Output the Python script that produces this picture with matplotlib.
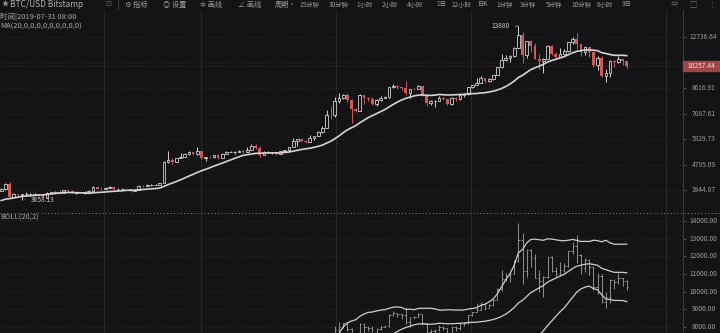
import numpy as np
import pandas as pd
import matplotlib
matplotlib.use('Agg')
import matplotlib.pyplot as plt
from matplotlib.lines import Line2D
from matplotlib.patches import Rectangle
from matplotlib.ticker import NullLocator
from matplotlib.transforms import blended_transform_factory

plt.rcParams['font.family'] = ['Noto Sans CJK SC', 'DejaVu Sans']

# BTC/USD daily candles, 2019-02-22 .. 2019-07-22
open_ = np.array([
    3925, 3985, 4135, 3745, 3825, 3800, 3810,
    3815, 3825, 3830, 3790, 3715, 3860, 3870, 3885, 3860, 3935, 3920, 3865, 3880, 3865, 3870, 3925,
    4025, 3985, 3970, 4005, 4040, 3965, 3975, 3985, 3975, 3920, 3935, 4080, 4070, 4100, 4110,
    4110, 4155, 4880, 4980, 4905, 5040, 5070, 5200, 5280, 5190, 5320, 5030, 5080, 5070, 5150,
    5040, 5210, 5280, 5290, 5290, 5330, 5290, 5380, 5510, 5440, 5170, 5260, 5260, 5270, 5190,
    5320, 5370, 5480, 5750, 5820, 5740, 5710, 5860, 5970, 6160, 6360, 7010, 6990, 7810, 7990,
    8200, 7880, 7360, 7260, 8190, 7990, 7960, 7640, 7900, 8000, 8060, 8680, 8790, 8720, 8660, 8280,
    8560, 8550, 8740, 8210, 7700, 7790, 7810, 8000, 7940, 7630, 8010, 7930, 8160, 8240, 8690,
    8850, 8990, 9320, 9080, 9270, 9540, 10150, 10700, 10860, 11020, 11760, 12940, 11150, 12340, 11880,
    10800, 10580, 10810, 11950, 11170, 10980, 11240, 11460, 12290, 12570, 12100, 11350, 11810, 11380,
    10260, 10860, 9430, 9680, 10640, 10530, 10760, 10590,
])
high = np.array([
    3995, 4165, 4195, 3860, 3835, 3825, 3890,
    3855, 3840, 3835, 3805, 3880, 3895, 3910, 3945, 3950, 3940, 3930, 3890, 3890, 3915, 3935, 4065,
    4030, 4030, 4025, 4055, 4060, 3995, 4000, 3990, 3980, 3945, 4085, 4085, 4115, 4140, 4120,
    4170, 4935, 5310, 5050, 5060, 5240, 5250, 5340, 5290, 5470, 5330, 5100, 5110, 5170, 5190,
    5230, 5300, 5340, 5330, 5350, 5350, 5490, 5620, 5600, 5520, 5320, 5300, 5290, 5280, 5330,
    5380, 5500, 5880, 5850, 5830, 5780, 6000, 5990, 6180, 6430, 7300, 7490, 8030, 8300, 8240,
    8290, 7920, 7400, 8240, 8200, 8080, 8050, 7960, 8130, 8100, 8720, 8920, 8810, 8730, 9080, 8590,
    8620, 8800, 8750, 8220, 7900, 7880, 8110, 8030, 7960, 8050, 8040, 8240, 8310, 8700, 8860,
    9330, 9440, 9340, 9290, 9570, 10180, 11200, 11080, 11080, 11790, 13880, 13300, 12390, 12430, 12150,
    11200, 10900, 11980, 12010, 11400, 11690, 11600, 12320, 12800, 13200, 12130, 11900, 11840, 11450,
    11070, 11020, 9990, 10740, 10710, 11060, 10800, 10660,
])
low = np.array([
    3920, 3950, 3700, 3740, 3780, 3658.13, 3790,
    3810, 3790, 3770, 3695, 3710, 3835, 3855, 3830, 3855, 3885, 3855, 3835, 3855, 3820, 3865, 3920,
    3960, 3955, 3965, 3990, 3945, 3955, 3965, 3960, 3880, 3905, 3930, 4050, 4065, 4080, 4095,
    4095, 4150, 4850, 4810, 4895, 5030, 5070, 5170, 5150, 5170, 4990, 4930, 5040, 5040, 5010,
    5030, 5200, 5270, 5200, 5280, 5230, 5260, 5370, 5400, 5080, 5150, 5230, 5200, 5160, 5180,
    5310, 5360, 5470, 5540, 5690, 5640, 5700, 5790, 5960, 6130, 6350, 6800, 6900, 7710, 7950,
    7750, 6620, 7160, 7250, 7620, 7800, 7580, 7520, 7830, 7980, 7980, 8650, 8590, 8480, 8170, 8020,
    8500, 8540, 8140, 7520, 7600, 7450, 7790, 7850, 7560, 7570, 7800, 7850, 8060, 8160, 8610,
    8830, 8980, 8960, 9050, 9210, 9530, 10050, 10600, 10570, 10990, 11700, 10450, 10840, 11420, 10770,
    10000, 9720, 10780, 11090, 10820, 10950, 11120, 11380, 12120, 11650, 11000, 11130, 10920, 10120,
    9880, 9380, 9070, 9380, 10160, 10450, 10330, 10090,
])
close = np.array([
    3985, 4135, 3745, 3825, 3800, 3810, 3815,
    3825, 3830, 3790, 3715, 3860, 3870, 3885, 3860, 3935, 3920, 3865, 3880, 3865, 3870, 3925, 4025,
    3985, 3970, 4005, 4040, 3965, 3975, 3985, 3975, 3920, 3935, 4080, 4070, 4100, 4110, 4110,
    4155, 4880, 4980, 4905, 5040, 5070, 5200, 5280, 5190, 5320, 5030, 5080, 5070, 5150, 5040,
    5210, 5280, 5290, 5290, 5330, 5290, 5380, 5510, 5440, 5170, 5260, 5260, 5270, 5190, 5320,
    5370, 5480, 5750, 5820, 5740, 5710, 5860, 5970, 6160, 6360, 7010, 6990, 7810, 7990, 8200,
    7880, 7360, 7260, 8190, 7990, 7960, 7640, 7900, 8000, 8060, 8680, 8790, 8720, 8660, 8280, 8560,
    8550, 8740, 8210, 7700, 7790, 7810, 8000, 7940, 7630, 8010, 7930, 8160, 8240, 8690, 8850,
    8990, 9320, 9080, 9270, 9540, 10150, 10700, 10860, 11020, 11760, 12940, 11150, 12340, 11880, 10800,
    10580, 10810, 11950, 11170, 10980, 11240, 11460, 12290, 12570, 12100, 11350, 11810, 11380, 10260,
    10860, 9430, 9680, 10640, 10530, 10760, 10590, 10257.44,
])
# closes before the first visible candle, only needed for the MA / BOLL warm-up
warmup_close = np.array([3410, 3440, 3410, 3375, 3355, 3625, 3620, 3660, 3595, 3610,
                         3595, 3575, 3585, 3605, 3640, 3885, 3915, 3950, 3925])

price_ticks = [3944.07, 4795.09, 5829.73, 7087.61, 8616.91, 10476.12, 12736.64]
boll_ticks = [8000, 9000, 10000, 11000, 12000, 13000, 14000]

toolbar = ['15分钟', '30分钟', '1小时', '2小时', '4小时', '1日', '12小时', '日K',
           '1分钟', '3分钟', '5分钟', '10分钟', '6小时', '3日']

W, H = 720, 333
BG = '#141416'
UP = '#d2d2d2'
DOWN = '#cb5a5a'
GRID = '#2c2c30'
TXT = '#9c9c9c'
LINE = '#d4d4d4'


def fx(px):
    return px / W


def fy(py):
    return 1 - py / H


fig = plt.figure(figsize=(W / 100, H / 100), dpi=100, facecolor=BG)
ax = fig.add_axes([0, fy(213), fx(683), (213 - 10) / H], facecolor=BG)
ax2 = fig.add_axes([0, 0, fx(683), (333 - 213) / H], facecolor=BG)

x = np.arange(len(close))
step = 4.17
xlim = (-0.3, 683 / step - 0.3)
up = close >= open_

all_close = pd.Series(np.concatenate([warmup_close, close]))
n0 = len(warmup_close)
ma = all_close.rolling(20).mean().to_numpy()[n0:]
sd = all_close.rolling(20).std(ddof=0).to_numpy()[n0:]

# --- main panel: candles + MA20 on log scale
ax.vlines(x, low, high, colors=np.where(up, UP, DOWN), lw=0.7, zorder=2)
ax.bar(x[up], close[up] - open_[up], bottom=open_[up], width=0.66,
       facecolor=BG, edgecolor=UP, lw=0.6, zorder=3)
ax.bar(x[~up], open_[~up] - close[~up], bottom=close[~up], width=0.66,
       color=DOWN, lw=0, zorder=3)
ax.plot(x, ma, color=LINE, lw=1.2, zorder=4)

ax.set_yscale('log')
ax.set_ylim(3305, 15710)
ax.set_xlim(*xlim)

# --- lower panel: OHLC bars + BOLL(20,2)
ax2.vlines(x, low, high, color='#a4a4a4', lw=0.6)
ax2.hlines(open_, x - 0.35, x, color='#a4a4a4', lw=0.6)
ax2.hlines(close, x, x + 0.35, color='#a4a4a4', lw=0.6)
for band in (ma + 2 * sd, ma, ma - 2 * sd):
    ax2.plot(x, band, color='#cfcfcf', lw=0.9)
ax2.set_ylim(7660, 14453)
ax2.set_xlim(*xlim)

fig.canvas.draw()
py_last = ax.transData.transform((0, close[-1]))[1]

vgrid = [103 / step, 200 / step, 335 / step, 470 / step, 665 / step]
for a, ticks in ((ax, price_ticks), (ax2, boll_ticks)):
    for s in ('left', 'top', 'bottom'):
        a.spines[s].set_visible(False)
    a.spines['right'].set_color('#3a3a3e')
    a.spines['right'].set_linewidth(0.8)
    a.yaxis.tick_right()
    a.set_yticks(ticks)
    a.yaxis.set_minor_locator(NullLocator())
    a.tick_params(axis='y', length=2.5, color='#4a4a4e', labelright=False)
    a.set_xticks(vgrid)
    a.tick_params(axis='x', length=0, labelbottom=False)
    a.grid(axis='x', color=GRID, lw=0.6)
    tr = blended_transform_factory(fig.transFigure, a.transData)
    for v in ticks:
        a.axhline(v, color='#303034', lw=0.6, ls=(0, (1, 2)), zorder=0)
        # label hidden behind the last-price tag in the reference
        if a is ax and abs(a.transData.transform((0, v))[1] - py_last) < 8:
            continue
        a.text(fx(703.5), v, f'{v:.2f}', transform=tr, ha='center', va='center',
               fontsize=4.8, color=TXT, clip_on=False)

# high / low markers
i_hi = int(np.argmax(high))
i_lo = int(np.argmin(low))
ax.annotate(f'{high[i_hi]:.0f}', xy=(i_hi, high[i_hi]), xytext=(-6, 0),
            textcoords='offset points', ha='right', va='center', fontsize=4.8,
            color='#c8c8c8', arrowprops=dict(arrowstyle='-', color='#c8c8c8', lw=0.6))
ax.annotate(f'{low[i_lo]:.2f}', xy=(i_lo, low[i_lo]), xytext=(6, 0),
            textcoords='offset points', ha='left', va='center', fontsize=4.8,
            color='#c8c8c8', arrowprops=dict(arrowstyle='-', color='#c8c8c8', lw=0.6))

# last price tag
fig.add_artist(Rectangle((fx(683), (py_last - 5) / H), fx(37), 10 / H,
                         transform=fig.transFigure, color='#a04646', zorder=10))
fig.text(fx(701.5), py_last / H, f'{close[-1]:.2f}', ha='center', va='center',
         fontsize=4.8, color='#f0e0e0', zorder=11)
ax.axhline(close[-1], color='#5a3a3a', lw=0.6, ls=(0, (1, 2)), zorder=1)

# panel separator
fig.add_artist(Line2D([0, 1], [fy(213), fy(213)], transform=fig.transFigure,
                      color='#8a8a8a', lw=0.7, ls=(0, (1, 2.5))))

# header / toolbar
fs = 5.2
fig.text(fx(1.5), fy(4.5), '★', fontsize=fs, color=TXT, va='center')
fig.text(fx(10), fy(4.5), 'BTC/USD Bitstamp', fontsize=6, color='#b0b0b0', va='center')
fig.text(fx(105), fy(4.5), '⊡', fontsize=fs, color='#6a6a6a', va='center')
fig.add_artist(Line2D([fx(118), fx(118)], [fy(0), fy(10)], transform=fig.transFigure,
                      color='#3a3a3e', lw=0.7))
for px, s in ((125, '⚙ 指标'), (163, '◎ 设置'), (200, '✲ 画线'), (238, '∠ 画线'), (275, '周期·')):
    fig.text(fx(px), fy(4.5), s, fontsize=fs, color=TXT, va='center')
tool_x = [299, 329, 356, 382, 407, 436, 451, 478, 496, 520, 546, 571, 597, 622]
for px, s in zip(tool_x, toolbar):
    fig.text(fx(px), fy(4.5), s, fontsize=4.6, color=TXT, va='center')
for px, s in ((671, '⇔'), (690, '▢'), (709, '⋮')):
    fig.text(fx(px), fy(4.5), s, fontsize=fs, color='#6a6a6a', va='center')

fig.text(fx(0.5), fy(17), '时间|2019-07-31 08:00', fontsize=5.4, color='#a8a8a8', va='center')
fig.text(fx(0.5), fy(27), 'MA(20,0,0,0,0,0,0,0,0,0)', fontsize=5.4, color='#a8a8a8', va='center')
fig.text(fx(0.5), fy(218), 'BOLL(20,2)', fontsize=5.4, color='#a8a8a8', va='center')

fig.savefig('out.png', dpi=100, facecolor=BG)
